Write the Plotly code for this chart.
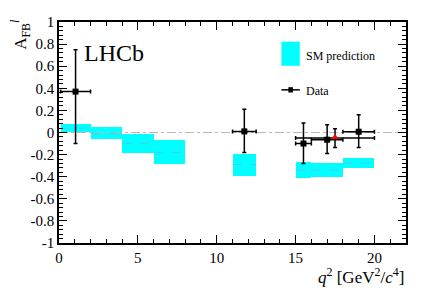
import plotly.graph_objects as go

# SM prediction bins
sm_lo = [0.1, 2.0, 4.0, 6.0, 11.0, 15.0, 16.0, 18.0]
sm_hi = [2.0, 4.0, 6.0, 8.0, 12.5, 16.0, 18.0, 20.0]
sm_low_val = [0.004, -0.06, -0.185, -0.287, -0.39, -0.41, -0.40, -0.32]
sm_high_val = [0.074, 0.048, -0.01, -0.07, -0.19, -0.27, -0.28, -0.23]

# Data points
d_x = [1.05, 11.75, 15.5, 17.0, 19.0]
d_xlo = [0.1, 11.0, 15.0, 16.0, 18.0]
d_xhi = [2.0, 12.5, 16.0, 18.0, 20.0]
d_y = [0.37, 0.01, -0.10, -0.065, 0.007]
d_yup = [0.75, 0.21, 0.085, 0.07, 0.16]
d_ydn = [-0.10, -0.18, -0.28, -0.19, -0.135]

# Wide bin (15-20) result
w_x = [17.5]
w_xlo = [15.0]
w_xhi = [20.0]
w_y = [-0.05]
w_yup = [0.033]
w_ydn = [-0.135]

SERIF = "Liberation Serif"

fig = go.Figure()

# SM boxes
fig.add_trace(go.Bar(
    x=[(a + b) / 2 for a, b in zip(sm_lo, sm_hi)],
    y=[h - l for l, h in zip(sm_low_val, sm_high_val)],
    base=sm_low_val,
    width=[b - a for a, b in zip(sm_lo, sm_hi)],
    marker=dict(color="#00FFFF", line=dict(width=0)),
    showlegend=False,
))

# central dashed lines
cx, cy = [], []
for a, b, l, h in zip(sm_lo, sm_hi, sm_low_val, sm_high_val):
    m = (l + h) / 2
    cx += [a, b, None]
    cy += [m, m, None]
fig.add_trace(go.Scatter(x=cx, y=cy, mode="lines",
                         line=dict(color="#55c4f0", width=1, dash="dash"),
                         showlegend=False, hoverinfo="skip"))

# zero line
fig.add_trace(go.Scatter(x=[0, 22], y=[0, 0], mode="lines",
                         line=dict(color="#b8b8b8", width=1, dash="dashdot"),
                         showlegend=False, hoverinfo="skip"))

# wide bin point
fig.add_trace(go.Scatter(
    x=w_x, y=w_y, mode="markers",
    marker=dict(symbol="triangle-up", color="red", size=8),
    error_x=dict(type="data", symmetric=False,
                 array=[h - x for h, x in zip(w_xhi, w_x)],
                 arrayminus=[x - l for l, x in zip(w_xlo, w_x)],
                 color="black", thickness=1.5, width=2),
    error_y=dict(type="data", symmetric=False,
                 array=[u - y for u, y in zip(w_yup, w_y)],
                 arrayminus=[y - d for d, y in zip(w_ydn, w_y)],
                 color="black", thickness=1.5, width=2),
    showlegend=False,
))

# data points
fig.add_trace(go.Scatter(
    x=d_x, y=d_y, mode="markers",
    marker=dict(symbol="square", color="black", size=6),
    error_x=dict(type="data", symmetric=False,
                 array=[h - x for h, x in zip(d_xhi, d_x)],
                 arrayminus=[x - l for l, x in zip(d_xlo, d_x)],
                 color="black", thickness=1.5, width=2),
    error_y=dict(type="data", symmetric=False,
                 array=[u - y for u, y in zip(d_yup, d_y)],
                 arrayminus=[y - d for d, y in zip(d_ydn, d_y)],
                 color="black", thickness=1.5, width=2),
    showlegend=False,
))

axis_common = dict(
    showline=True, linecolor="black", linewidth=1.5, mirror="allticks",
    ticks="inside", ticklen=8, tickwidth=1.2, tickcolor="black",
    showgrid=False, zeroline=False,
    tickfont=dict(family=SERIF, size=15, color="black"),
)

fig.update_xaxes(range=[0, 22], tickvals=[0, 5, 10, 15, 20], ticktext=["0", "5", "10", "15", "20"],
                 minor=dict(dtick=1, ticklen=4, tickwidth=1, tickcolor="black", ticks="inside"),
                 **axis_common)
fig.update_yaxes(range=[-1, 1], tickvals=[-1, -0.8, -0.6, -0.4, -0.2, 0, 0.2, 0.4, 0.6, 0.8, 1],
                 ticktext=["-1", "-0.8", "-0.6", "-0.4", "-0.2", "0", "0.2", "0.4", "0.6", "0.8", "1"],
                 minor=dict(dtick=0.04, tick0=0, ticklen=4, tickwidth=1, tickcolor="black", ticks="inside"),
                 **axis_common)

annotations = [
    dict(text="LHCb", xref="paper", yref="paper", x=0.066, y=0.858, xanchor="left", yanchor="middle",
         showarrow=False, font=dict(family=SERIF, size=24, color="black")),
    dict(text="<i>q</i><sup>2</sup> [GeV<sup>2</sup>/<i>c</i><sup>4</sup>]", xref="paper", yref="paper",
         x=1.0, y=-0.09, xanchor="right", yanchor="top", showarrow=False,
         font=dict(family=SERIF, size=17, color="black")),
    dict(text="A<sub>FB</sub><sup><i>l</i></sup>", xref="paper", yref="paper", x=-0.11, y=1.025,
         xanchor="center", yanchor="top", textangle=-90, showarrow=False,
         font=dict(family=SERIF, size=17, color="black")),
    dict(text="SM prediction", xref="paper", yref="paper", x=0.705, y=0.845, xanchor="left", yanchor="middle",
         showarrow=False, font=dict(family=SERIF, size=12, color="black")),
    dict(text="Data", xref="paper", yref="paper", x=0.705, y=0.69, xanchor="left", yanchor="middle",
         showarrow=False, font=dict(family=SERIF, size=12, color="black")),
]

shapes = [
    dict(type="rect", xref="paper", yref="paper", x0=0.641, x1=0.694, y0=0.802, y1=0.911,
         fillcolor="#00FFFF", line=dict(width=0)),
    dict(type="line", xref="paper", yref="paper", x0=0.641, x1=0.694, y0=0.693, y1=0.693,
         line=dict(color="black", width=1.5)),
    dict(type="rect", xref="paper", yref="paper", x0=0.661, x1=0.674, y0=0.681, y1=0.705,
         fillcolor="black", line=dict(width=0)),
]

# The page body adds an 8px margin, so the figure is drawn 8px smaller
fig.update_layout(
    width=419, height=282,
    margin=dict(l=51, r=21, t=6, b=47),
    paper_bgcolor="white", plot_bgcolor="white",
    barmode="overlay", bargap=0,
    annotations=annotations, shapes=shapes,
    showlegend=False,
)

fig.write_html("out.html")
